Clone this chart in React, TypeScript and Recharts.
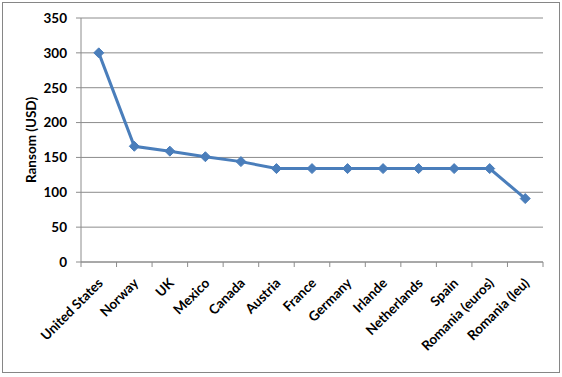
import React from "react";
import { LineChart, Line, XAxis, YAxis, CartesianGrid } from "recharts";

const countries = [
  "United States", "Norway", "UK", "Mexico", "Canada", "Austria", "France",
  "Germany", "Irlande", "Netherlands", "Spain", "Romania (euros)", "Romania (leu)",
];
const ransom = [300, 166, 159, 151, 144, 134, 134, 134, 134, 134, 134, 134, 91];
const yTicks = [0, 50, 100, 150, 200, 250, 300, 350];

const data = countries.map((c, i) => ({ country: c, ransom: ransom[i] }));

const FONT = "Lato, 'Open Sans', sans-serif";
const LINE = "#4a7ebb";
const GRID = "#8c8c8c";
const PLOT_W = 462;
const STEP = PLOT_W / countries.length;

const Diamond = (props: any) => {
  const { cx, cy } = props;
  if (cx == null || cy == null) return null;
  const r = 5;
  return (
    <polygon
      points={`${cx},${cy - r} ${cx + r},${cy} ${cx},${cy + r} ${cx - r},${cy}`}
      fill={LINE}
      stroke={LINE}
      strokeWidth={1}
    />
  );
};

// Excel-style category axis: tick marks between categories, labels at 45°
const XTick = (props: any) => {
  const { x, y, payload, index } = props;
  const half = STEP / 2;
  const top = y - 8;
  return (
    <g>
      <line x1={x - half} x2={x - half} y1={top} y2={top + 5} stroke={GRID} />
      {index === countries.length - 1 && (
        <line x1={x + half} x2={x + half} y1={top} y2={top + 5} stroke={GRID} />
      )}
      <g transform={`translate(${x + 5},${y + 14})`}>
        <text
          x={0}
          y={0}
          textAnchor="end"
          transform="rotate(-45)"
          fill="#000"
          fontFamily={FONT}
          fontWeight="bold"
          fontSize={13.5}
        >
          {payload.value}
        </text>
      </g>
    </g>
  );
};

const YLabel = (props: any) => {
  const vb = props.viewBox || {};
  const x = (vb.x ?? 0) + 6;
  const y = (vb.y ?? 0) + (vb.height ?? 0) / 2;
  return (
    <text
      x={x}
      y={y}
      transform={`rotate(-90, ${x}, ${y})`}
      textAnchor="middle"
      dominantBaseline="central"
      fontFamily={FONT}
      fontWeight="bold"
      fontSize={13.5}
      fill="#000"
    >
      Ransom (USD)
    </text>
  );
};

export default function App() {
  return (
    <div style={{ position: "absolute", left: 0, top: 0, width: 562, height: 377, background: "#fff" }}>
      <div
        style={{
          position: "absolute",
          left: 2,
          top: 2,
          width: 556,
          height: 369,
          border: "1.5px solid #868686",
        }}
      />
      <div style={{ position: "absolute", left: 0, top: 0 }}>
        <LineChart
          width={562}
          height={377}
          data={data}
          margin={{ top: 18, right: 19, left: 25, bottom: 15 }}
        >
          <CartesianGrid horizontal vertical={false} stroke={GRID} strokeWidth={1} />
          <XAxis
            dataKey="country"
            interval={0}
            height={100}
            padding={{ left: STEP / 2, right: STEP / 2 }}
            axisLine={{ stroke: GRID }}
            tickLine={false}
            tickSize={5}
            tickMargin={3}
            tick={<XTick />}
          />
          <YAxis
            domain={[0, 350]}
            ticks={yTicks}
            width={56}
            interval={0}
            axisLine={{ stroke: GRID }}
            tickLine={{ stroke: GRID }}
            tickSize={5}
            tickMargin={9}
            tick={{ fill: "#000", fontFamily: FONT, fontWeight: "bold", fontSize: 13.5 }}
            label={<YLabel />}
          />
          <Line
            type="linear"
            dataKey="ransom"
            stroke={LINE}
            strokeWidth={3}
            dot={<Diamond />}
            activeDot={false}
            isAnimationActive={false}
          />
        </LineChart>
      </div>
    </div>
  );
}
